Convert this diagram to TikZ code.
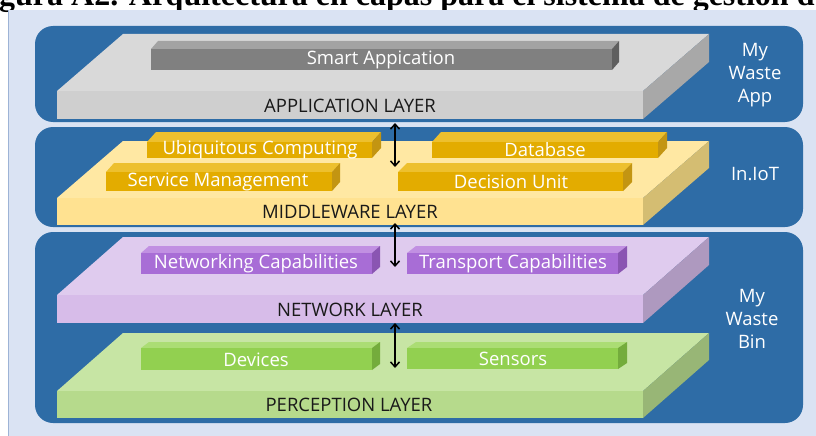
\documentclass[tikz,border=0pt]{standalone}
\usepackage{fontspec}
\setmainfont{Open Sans}
\newfontfamily\titleserif{Liberation Serif}
\usetikzlibrary{arrows.meta}
\definecolor{bgblue}{HTML}{DAE3F3}
\definecolor{edgeblue}{HTML}{9DB3D6}
\definecolor{panelblue}{HTML}{2E6CA6}
% application
\definecolor{appTop}{HTML}{D9D9D9}\definecolor{appFront}{HTML}{CFCFCF}\definecolor{appSide}{HTML}{A8A8A8}
\definecolor{barGTop}{HTML}{A3A3A3}\definecolor{barGFront}{HTML}{808080}\definecolor{barGSide}{HTML}{5F5F5F}
% middleware
\definecolor{midTop}{HTML}{FFE8A3}\definecolor{midFront}{HTML}{FFE291}\definecolor{midSide}{HTML}{D4BD72}
\definecolor{barYTop}{HTML}{EDC02E}\definecolor{barYFront}{HTML}{E3AC00}\definecolor{barYSide}{HTML}{C39512}
% network
\definecolor{netTop}{HTML}{DFCBEE}\definecolor{netFront}{HTML}{D7BCE9}\definecolor{netSide}{HTML}{AE99BF}
\definecolor{barPTop}{HTML}{C190E2}\definecolor{barPFront}{HTML}{A86DD6}\definecolor{barPSide}{HTML}{8A55B2}
% perception
\definecolor{perTop}{HTML}{C7E5A4}\definecolor{perFront}{HTML}{B6DA8C}\definecolor{perSide}{HTML}{98B676}
\definecolor{barNTop}{HTML}{ABDD74}\definecolor{barNFront}{HTML}{92D050}\definecolor{barNSide}{HTML}{74AC3C}
% #1 x0, #2 x1, #3 front top y, #4 front bottom y, #5 dx, #6 dy (up), #7 top, #8 front, #9 side
\newcommand{\layerblock}[9]{%
  \fill[#7] (#1,#3) -- (#1+#5,#3-#6) -- (#2+#5,#3-#6) -- (#2,#3) -- cycle;
  \fill[#9] (#2,#3) -- (#2+#5,#3-#6) -- (#2+#5,#4-#6) -- (#2,#4) -- cycle;
  \fill[#8] (#1,#3) rectangle (#2,#4);
}
\tikzset{
  panel/.style={fill=panelblue, rounded corners=18pt},
  bartext/.style={text=white, font=\fontsize{18.5}{20}\selectfont, inner sep=0pt},
  layertext/.style={text=black!90, font=\fontsize{18.5}{20}\selectfont, inner sep=0pt},
  sidetext/.style={text=white, font=\fontsize{18.5}{23}\selectfont, align=center, inner sep=0pt},
  linkarrow/.style={line width=1.5pt, {Straight Barb[length=5pt,width=9pt]}-{Straight Barb[length=5pt,width=9pt]}}
}
\begin{document}
\begin{tikzpicture}[x=1pt,y=-1pt]
\useasboundingbox (0,0) rectangle (816,436);
% title (cut off at top)
\node[anchor=base west, inner sep=0pt, font=\titleserif\bfseries\fontsize{32}{36}\selectfont] (title) at (-1,5.5)
  {gura A2. Arquitectura en capas para el sistema de gestión d};
% background
\fill[bgblue] (8,10) rectangle (816,436);
\draw[edgeblue, line width=0.8pt] (8,10) -- (8,436);
% panels
\fill[panel] (35,26) rectangle (803,122);
\fill[panel] (35,127) rectangle (803,227);
\fill[panel] (35,232) rectangle (803,423);
% application layer
\layerblock{57}{643}{91}{119}{66}{57}{appTop}{appFront}{appSide}
\layerblock{151}{612}{49}{70}{7}{8}{barGTop}{barGFront}{barGSide}
\node[bartext] (smart) at (381,59.5) {Smart Appication};
\node[layertext] (applayer) at (350,106) {APPLICATION LAYER};
% middleware layer
\layerblock{57}{643}{198}{225}{66}{57}{midTop}{midFront}{midSide}
\layerblock{147}{372}{142}{158}{9}{10}{barYTop}{barYFront}{barYSide}
\layerblock{432}{658}{142}{158}{9}{10}{barYTop}{barYFront}{barYSide}
\layerblock{106}{332}{172}{191}{8}{9}{barYTop}{barYFront}{barYSide}
\layerblock{398}{623}{172}{191}{9}{9}{barYTop}{barYFront}{barYSide}
\node[bartext] (ubi) at (260,149.5) {Ubiquitous Computing};
\node[bartext] (db) at (545,149.5) {Database};
\node[bartext] (svc) at (218,182) {Service Management};
\node[bartext] (dec) at (511,181.5) {Decision Unit};
\node[layertext] (midlayer) at (350,212) {MIDDLEWARE LAYER};
% network layer
\layerblock{57}{643}{295}{323}{66}{58}{netTop}{netFront}{netSide}
\layerblock{141}{372}{253}{274}{8}{7}{barPTop}{barPFront}{barPSide}
\layerblock{407}{618}{253}{274}{9}{7}{barPTop}{barPFront}{barPSide}
\node[bartext] (netcap) at (256,264) {Networking Capabilities};
\node[bartext] (trcap) at (513,263.5) {Transport Capabilities};
\node[layertext] (netlayer) at (350,310) {NETWORK LAYER};
% perception layer
\layerblock{57}{643}{391}{418}{66}{58}{perTop}{perFront}{perSide}
\layerblock{141}{372}{348}{370}{8}{6}{barNTop}{barNFront}{barNSide}
\layerblock{407}{618}{348}{369}{9}{6}{barNTop}{barNFront}{barNSide}
\node[bartext] (dev) at (256,359.5) {Devices};
\node[bartext] (sens) at (513,358.5) {Sensors};
\node[layertext] (perlayer) at (349,405) {PERCEPTION LAYER};
% side labels
\node[sidetext] (app) at (755,75) {My\\Waste\\App};
\node[sidetext] (iniot) at (755,174) {In.IoT};
\node[sidetext] (bin) at (752,319) {My\\Waste\\Bin};
% arrows
\coordinate (a1t) at (395,123); \coordinate (a1b) at (395,167);
\coordinate (a2t) at (395,223); \coordinate (a2b) at (395,267);
\coordinate (a3t) at (395,323); \coordinate (a3b) at (395,368);
\draw[linkarrow] (a1t) -- (a1b);
\draw[linkarrow] (a2t) -- (a2b);
\draw[linkarrow] (a3t) -- (a3b);
\end{tikzpicture}
\end{document}
